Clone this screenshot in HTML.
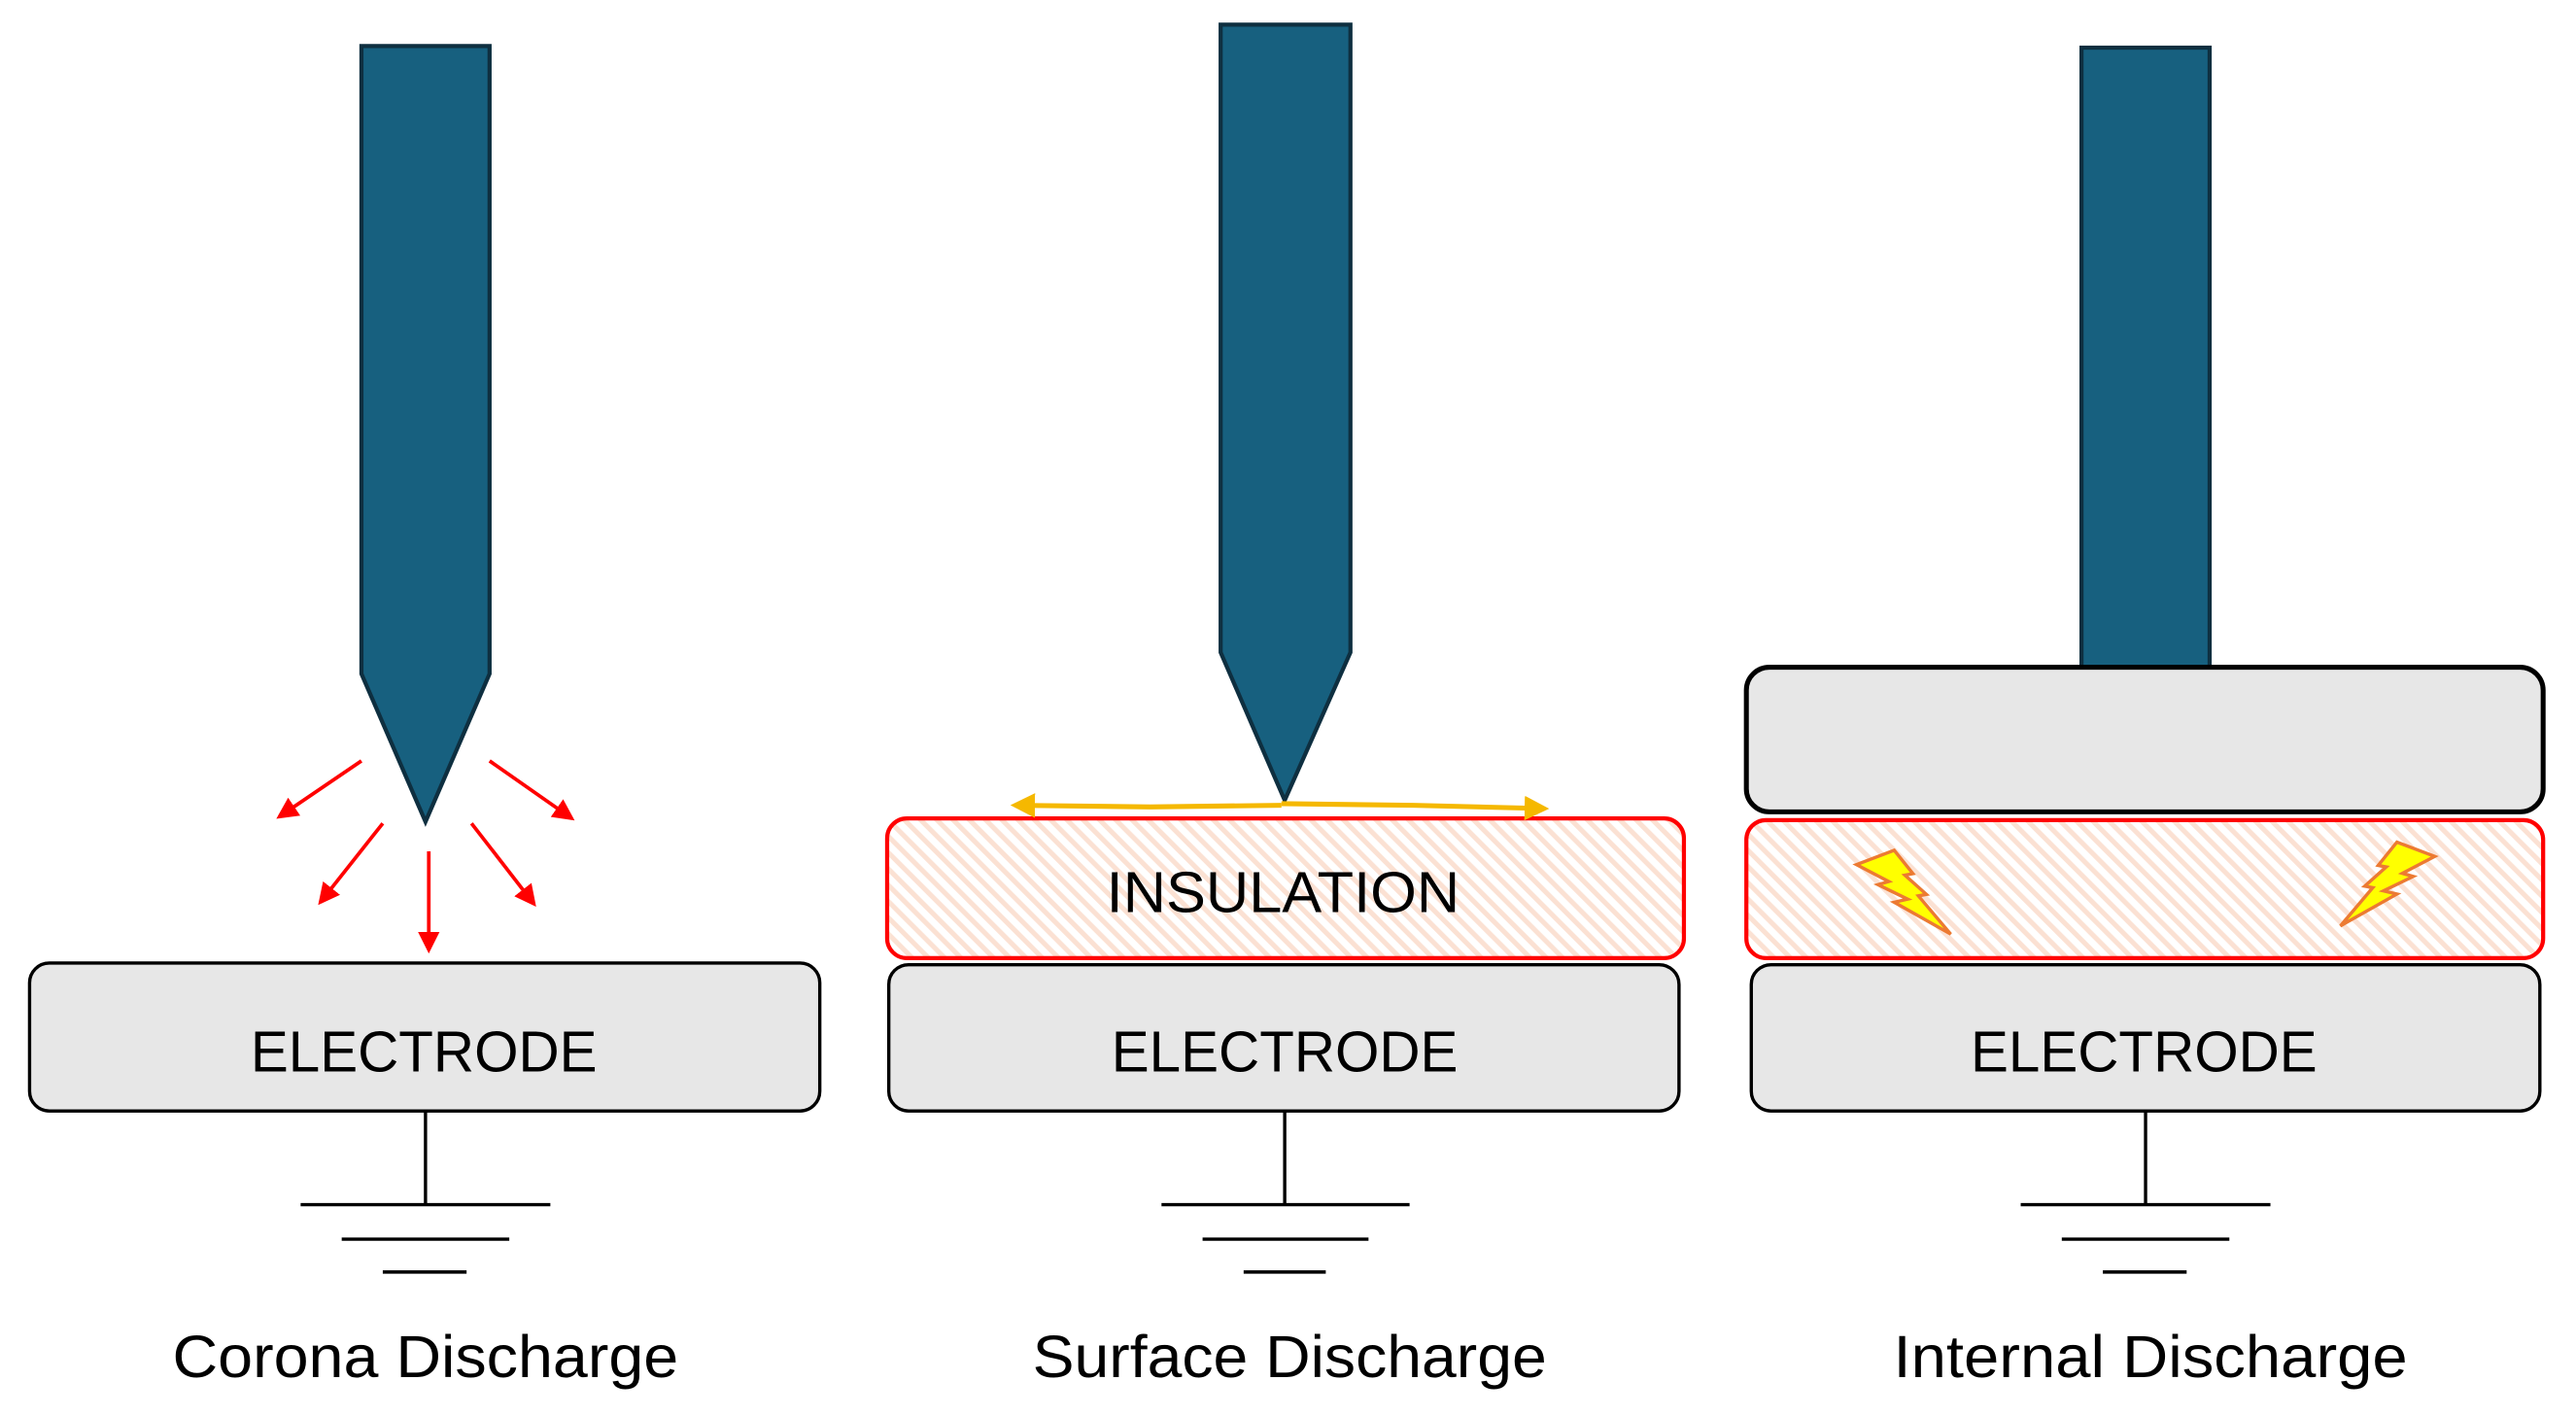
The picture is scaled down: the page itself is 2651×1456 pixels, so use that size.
<!DOCTYPE html>
<html><head><meta charset="utf-8"><style>html,body{margin:0;padding:0;background:#fff}svg{display:block}</style></head><body>
<svg width="2651" height="1456" viewBox="0 0 1568 861" preserveAspectRatio="none" xmlns="http://www.w3.org/2000/svg" font-family="Liberation Sans, sans-serif">
<defs>
<pattern id="h" width="7" height="7" patternUnits="userSpaceOnUse" patternTransform="rotate(-45)">
<rect width="7" height="7" fill="#fff"/><rect width="3" height="7" fill="#fbe1d3"/>
</pattern>
<marker id="ar" markerWidth="6" markerHeight="6" refX="5" refY="3" orient="auto" markerUnits="strokeWidth"><path d="M0,0 L6,3 L0,6 z" fill="#f00"/></marker>
<marker id="ao" markerWidth="5" markerHeight="5" refX="4" refY="2.5" orient="auto" markerUnits="strokeWidth"><path d="M0,0 L5,2.5 L0,5 z" fill="#f5b800"/></marker>
<g id="bolt"><polygon points="0,9.1 23,0.4 34.4,14.6 29.5,15.5 42.6,27.2 37.7,28.1 57.4,51.4 23,32 31.2,30.1 13.1,21.3 19.7,19.4" fill="#ff0" stroke="#ec7a32" stroke-width="2" stroke-linejoin="miter"/></g>
</defs>

<!-- LEFT -->
<polygon points="220,28 298,28 298,410 259,500 220,410" fill="#17607f" stroke="#0e2f40" stroke-width="2.5"/>
<g stroke="#f00" stroke-width="2.2" marker-end="url(#ar)">
<line x1="220" y1="463" x2="170" y2="497"/>
<line x1="233" y1="501" x2="195" y2="549"/>
<line x1="261" y1="518" x2="261" y2="578"/>
<line x1="287" y1="501" x2="325" y2="550"/>
<line x1="298" y1="463" x2="348" y2="498"/>
</g>
<rect x="18" y="586" width="481" height="90" rx="12" fill="#e7e7e7" stroke="#000" stroke-width="2"/>
<text x="258" y="652" font-size="35" text-anchor="middle" textLength="211" lengthAdjust="spacingAndGlyphs">ELECTRODE</text>
<g stroke="#000" stroke-width="2"><line x1="259" y1="676" x2="259" y2="733"/><line x1="183" y1="733" x2="335" y2="733"/><line x1="208" y1="754" x2="310" y2="754"/><line x1="233" y1="774" x2="284" y2="774"/></g>
<text x="259" y="838" font-size="36" text-anchor="middle" textLength="308" lengthAdjust="spacingAndGlyphs">Corona Discharge</text>

<!-- MIDDLE -->
<polygon points="743,15 822,15 822,397 782,487 743,397" fill="#17607f" stroke="#0e2f40" stroke-width="2.5"/>
<rect x="540" y="498" width="485" height="85" rx="12" fill="url(#h)" stroke="#f00" stroke-width="2.5"/>
<text x="781" y="555" font-size="35" text-anchor="middle" textLength="215" lengthAdjust="spacingAndGlyphs">INSULATION</text>
<g stroke="#f5b800" stroke-width="3" fill="none">
<path d="M780,490 L700,491 L618,490" marker-end="url(#ao)"/>
<path d="M780,489 L860,490 L940,492" marker-end="url(#ao)"/>
</g>
<rect x="541" y="587" width="481" height="89" rx="12" fill="#e7e7e7" stroke="#000" stroke-width="2"/>
<text x="782" y="652" font-size="35" text-anchor="middle" textLength="211" lengthAdjust="spacingAndGlyphs">ELECTRODE</text>
<g stroke="#000" stroke-width="2"><line x1="782" y1="676" x2="782" y2="733"/><line x1="707" y1="733" x2="858" y2="733"/><line x1="732" y1="754" x2="833" y2="754"/><line x1="757" y1="774" x2="807" y2="774"/></g>
<text x="785" y="838" font-size="36" text-anchor="middle" textLength="313" lengthAdjust="spacingAndGlyphs">Surface Discharge</text>

<!-- RIGHT -->
<rect x="1267" y="29" width="78" height="380" fill="#17607f" stroke="#0e2f40" stroke-width="2.5"/>
<rect x="1063" y="406" width="485" height="88" rx="14" fill="#e7e7e7" stroke="#000" stroke-width="3"/>
<rect x="1063" y="499" width="485" height="84" rx="12" fill="url(#h)" stroke="#f00" stroke-width="2.5"/>
<use href="#bolt" transform="translate(1130,517)"/>
<use href="#bolt" transform="translate(1482,512) scale(-1,1)"/>
<rect x="1066" y="587" width="480" height="89" rx="12" fill="#e7e7e7" stroke="#000" stroke-width="2"/>
<text x="1305" y="652" font-size="35" text-anchor="middle" textLength="211" lengthAdjust="spacingAndGlyphs">ELECTRODE</text>
<g stroke="#000" stroke-width="2"><line x1="1306" y1="676" x2="1306" y2="733"/><line x1="1230" y1="733" x2="1382" y2="733"/><line x1="1255" y1="754" x2="1357" y2="754"/><line x1="1280" y1="774" x2="1331" y2="774"/></g>
<text x="1309" y="838" font-size="36" text-anchor="middle" textLength="313" lengthAdjust="spacingAndGlyphs">Internal Discharge</text>
</svg>
</body></html>
